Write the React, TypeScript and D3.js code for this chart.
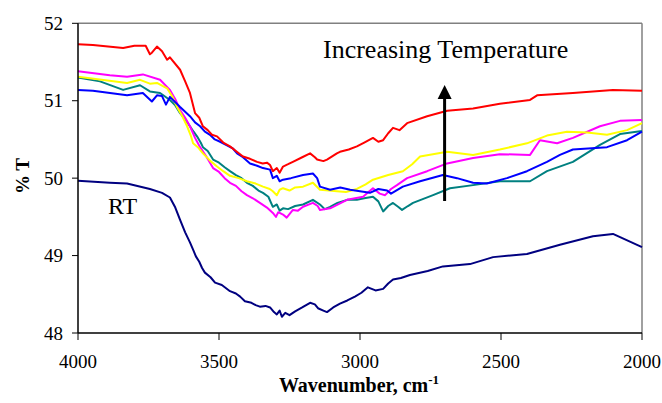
import React from "react";
import * as d3 from "d3";

const xTicks = [4000, 3500, 3000, 2500, 2000];
const yTicks = [48, 49, 50, 51, 52];

type P = [number, number];

const seriesRT: P[] = [
  [4000, 49.965], [3887, 49.94], [3826, 49.93], [3745, 49.86], [3702, 49.81], [3674, 49.75],
  [3655, 49.62], [3638, 49.46], [3620, 49.30], [3603, 49.17], [3590, 49.06], [3582, 48.99],
  [3570, 48.92], [3560, 48.84], [3550, 48.78], [3530, 48.72], [3514, 48.65], [3490, 48.62],
  [3461, 48.54], [3440, 48.51], [3425, 48.47], [3408, 48.41], [3385, 48.39], [3370, 48.36],
  [3355, 48.34], [3335, 48.35], [3319, 48.33], [3305, 48.27], [3295, 48.24], [3285, 48.29],
  [3277, 48.21], [3265, 48.26], [3250, 48.23], [3230, 48.28], [3205, 48.33], [3177, 48.39],
  [3160, 48.37], [3149, 48.32], [3130, 48.29], [3117, 48.27], [3095, 48.33], [3071, 48.38],
  [3045, 48.42], [3018, 48.47], [2995, 48.52], [2972, 48.59], [2945, 48.55], [2918, 48.57],
  [2900, 48.64], [2883, 48.69], [2855, 48.71], [2823, 48.75], [2760, 48.80], [2706, 48.86],
  [2610, 48.89], [2528, 48.98], [2408, 49.02], [2291, 49.14], [2174, 49.25], [2103, 49.28],
  [2000, 49.11],
];

const seriesTeal: P[] = [
  [4000, 51.30], [3922, 51.25], [3840, 51.14], [3780, 51.20], [3745, 51.12], [3709, 51.10],
  [3674, 51.01], [3655, 50.94], [3638, 50.84], [3620, 50.76], [3603, 50.67], [3590, 50.60],
  [3578, 50.54], [3565, 50.46], [3557, 50.40], [3540, 50.35], [3521, 50.24], [3500, 50.20],
  [3480, 50.14], [3461, 50.09], [3440, 50.04], [3420, 50.00], [3401, 49.94], [3380, 49.90],
  [3360, 49.84], [3344, 49.81], [3325, 49.76], [3309, 49.63], [3295, 49.66], [3285, 49.58],
  [3273, 49.61], [3255, 49.60], [3230, 49.64], [3202, 49.66], [3167, 49.72], [3142, 49.66],
  [3125, 49.60], [3106, 49.63], [3080, 49.68], [3046, 49.72], [3011, 49.72], [2985, 49.74],
  [2954, 49.76], [2935, 49.70], [2918, 49.57], [2900, 49.64], [2883, 49.68], [2865, 49.63],
  [2851, 49.59], [2830, 49.64], [2812, 49.68], [2741, 49.78], [2681, 49.87], [2599, 49.91],
  [2504, 49.96], [2397, 49.96], [2337, 50.09], [2245, 50.21], [2149, 50.43], [2078, 50.57],
  [2000, 50.61],
];

const seriesMagenta: P[] = [
  [4000, 51.38], [3887, 51.33], [3826, 51.31], [3770, 51.34], [3709, 51.27], [3674, 51.14],
  [3655, 51.02], [3638, 50.88], [3620, 50.78], [3603, 50.67], [3585, 50.52], [3567, 50.40],
  [3545, 50.28], [3521, 50.13], [3500, 50.08], [3480, 50.00], [3461, 49.94], [3440, 49.90],
  [3420, 49.83], [3401, 49.78], [3380, 49.74], [3355, 49.68], [3330, 49.62], [3309, 49.55],
  [3298, 49.50], [3290, 49.56], [3273, 49.53], [3260, 49.49], [3238, 49.59], [3220, 49.58],
  [3202, 49.63], [3167, 49.68], [3150, 49.64], [3142, 49.59], [3106, 49.61], [3046, 49.72],
  [2989, 49.76], [2970, 49.82], [2954, 49.87], [2930, 49.80], [2911, 49.78], [2890, 49.86],
  [2869, 49.91], [2833, 50.0], [2762, 50.09], [2691, 50.19], [2599, 50.26], [2504, 50.31],
  [2397, 50.30], [2362, 50.49], [2301, 50.45], [2245, 50.52], [2149, 50.67], [2078, 50.74],
  [2000, 50.75],
];

const seriesYellow: P[] = [
  [4000, 51.31], [3826, 51.23], [3780, 51.27], [3745, 51.22], [3720, 51.23], [3684, 51.16],
  [3665, 51.05], [3649, 50.92], [3630, 50.80], [3613, 50.67], [3600, 50.55], [3592, 50.45],
  [3575, 50.40], [3557, 50.32], [3530, 50.22], [3507, 50.15], [3485, 50.09], [3461, 50.03],
  [3430, 50.00], [3401, 49.96], [3370, 49.93], [3344, 49.89], [3320, 49.86], [3309, 49.83],
  [3295, 49.78], [3285, 49.85], [3273, 49.87], [3250, 49.84], [3230, 49.88], [3202, 49.89],
  [3167, 49.94], [3142, 49.85], [3110, 49.84], [3082, 49.83], [3050, 49.82], [3011, 49.86],
  [2980, 49.92], [2954, 49.98], [2900, 50.04], [2848, 50.09], [2815, 50.18], [2787, 50.28],
  [2691, 50.34], [2599, 50.30], [2504, 50.37], [2408, 50.45], [2337, 50.55], [2266, 50.60],
  [2195, 50.59], [2124, 50.56], [2053, 50.62], [2000, 50.71],
];

const seriesBlue: P[] = [
  [4000, 51.14], [3947, 51.13], [3826, 51.07], [3770, 51.10], [3738, 50.99], [3720, 51.07],
  [3702, 51.06], [3688, 50.95], [3674, 51.05], [3638, 50.92], [3603, 50.80], [3585, 50.72],
  [3567, 50.67], [3550, 50.60], [3532, 50.56], [3515, 50.50], [3496, 50.47], [3470, 50.42],
  [3450, 50.38], [3436, 50.32], [3415, 50.27], [3390, 50.19], [3365, 50.16], [3344, 50.13],
  [3319, 50.11], [3309, 50.0], [3295, 50.03], [3285, 49.96], [3273, 49.98], [3245, 50.00],
  [3202, 50.04], [3167, 50.06], [3152, 50.00], [3142, 49.89], [3106, 49.85], [3070, 49.88],
  [3035, 49.85], [3000, 49.83], [2965, 49.81], [2935, 49.86], [2904, 49.84], [2890, 49.80],
  [2848, 49.89], [2787, 49.96], [2706, 50.04], [2656, 50.0], [2599, 49.94], [2550, 49.93],
  [2479, 50.0], [2408, 50.09], [2337, 50.21], [2291, 50.30], [2245, 50.37], [2124, 50.40],
  [2053, 50.49], [2000, 50.60],
];

const seriesRed: P[] = [
  [4000, 51.73], [3947, 51.72], [3840, 51.68], [3800, 51.71], [3760, 51.71], [3745, 51.60],
  [3738, 51.62], [3720, 51.70], [3702, 51.64], [3684, 51.53], [3674, 51.56], [3638, 51.40],
  [3620, 51.25], [3603, 51.10], [3585, 50.84], [3570, 50.78], [3557, 50.67], [3540, 50.62],
  [3525, 50.56], [3507, 50.54], [3485, 50.46], [3461, 50.41], [3440, 50.35], [3415, 50.28],
  [3390, 50.25], [3365, 50.21], [3345, 50.19], [3330, 50.20], [3319, 50.17], [3309, 50.09],
  [3295, 50.13], [3285, 50.07], [3273, 50.15], [3255, 50.18], [3238, 50.21], [3205, 50.27],
  [3177, 50.32], [3160, 50.27], [3152, 50.24], [3130, 50.22], [3117, 50.24], [3082, 50.32],
  [3071, 50.34], [3040, 50.37], [3011, 50.41], [2985, 50.46], [2954, 50.52], [2935, 50.47],
  [2918, 50.49], [2900, 50.58], [2883, 50.65], [2860, 50.62], [2833, 50.71], [2762, 50.80],
  [2691, 50.87], [2599, 50.90], [2504, 50.96], [2397, 51.01], [2372, 51.07], [2245, 51.10],
  [2103, 51.14], [2000, 51.13],
];

const series: { data: P[]; color: string }[] = [
  { data: seriesRT, color: "#000080" },
  { data: seriesTeal, color: "#008080" },
  { data: seriesMagenta, color: "#FF00FF" },
  { data: seriesYellow, color: "#FFFF00" },
  { data: seriesBlue, color: "#0000FF" },
  { data: seriesRed, color: "#FF0000" },
];

const W = 662;
const H = 403;
const L = 78, R = 642, T = 23.3, B = 333;
const font = "'Liberation Serif', 'Times New Roman', serif";

export default function App() {
  const x = d3.scaleLinear().domain([4000, 2000]).range([L, R]);
  const y = d3.scaleLinear().domain([48, 52]).range([B, T]);
  const line = d3.line<P>().x((d) => x(d[0])).y((d) => y(d[1])).curve(d3.curveLinear);
  const ax = x(2700);
  const ts = { fontFamily: font };

  return (
    <svg width={W} height={H} style={{ position: "absolute", left: 0, top: 0, background: "#fff" }}>
      <rect x={0} y={0} width={W} height={H} fill="#fff" />
      <line x1={L} x2={R} y1={T} y2={T} stroke="#808080" strokeWidth={1.5} />
      <line x1={R} x2={R} y1={T} y2={B} stroke="#808080" strokeWidth={1.5} />
      {series.map((s, i) => (
        <path key={i} d={line(s.data) || ""} fill="none" stroke={s.color} strokeWidth={2} strokeLinejoin="round" />
      ))}
      <line x1={L} x2={L} y1={T} y2={B} stroke="#000" strokeWidth={1.5} />
      <line x1={L} x2={R} y1={B} y2={B} stroke="#000" strokeWidth={1.5} />
      {yTicks.map((t) => (
        <g key={"y" + t}>
          <line x1={L - 6} x2={L} y1={y(t)} y2={y(t)} stroke="#000" strokeWidth={1} />
          <text x={63} y={y(t)} dy="0.35em" textAnchor="end" fontSize={19} style={ts}>{t}</text>
        </g>
      ))}
      {xTicks.map((t) => (
        <g key={"x" + t}>
          <line x1={x(t)} x2={x(t)} y1={B} y2={B + 7} stroke="#000" strokeWidth={1} />
          <text x={x(t)} y={368} textAnchor="middle" fontSize={19} style={ts}>{t}</text>
        </g>
      ))}
      <text x={359} y={392} textAnchor="middle" fontSize={20} fontWeight="bold" style={ts}>
        Wavenumber, cm<tspan dy={-8} fontSize={13}>-1</tspan>
      </text>
      <text transform="translate(29,176) rotate(-90)" textAnchor="middle" fontSize={19} fontWeight="bold" style={ts}>% T</text>
      <text x={108} y={214} fontSize={24} style={ts}>RT</text>
      <text x={323} y={58} fontSize={26} style={ts}>Increasing Temperature</text>
      <line x1={ax} x2={ax} y1={201} y2={96} stroke="#000" strokeWidth={3} />
      <path d={`M${ax - 7},${99} L${ax},${85} L${ax + 7},${99} Z`} fill="#000" />
    </svg>
  );
}
